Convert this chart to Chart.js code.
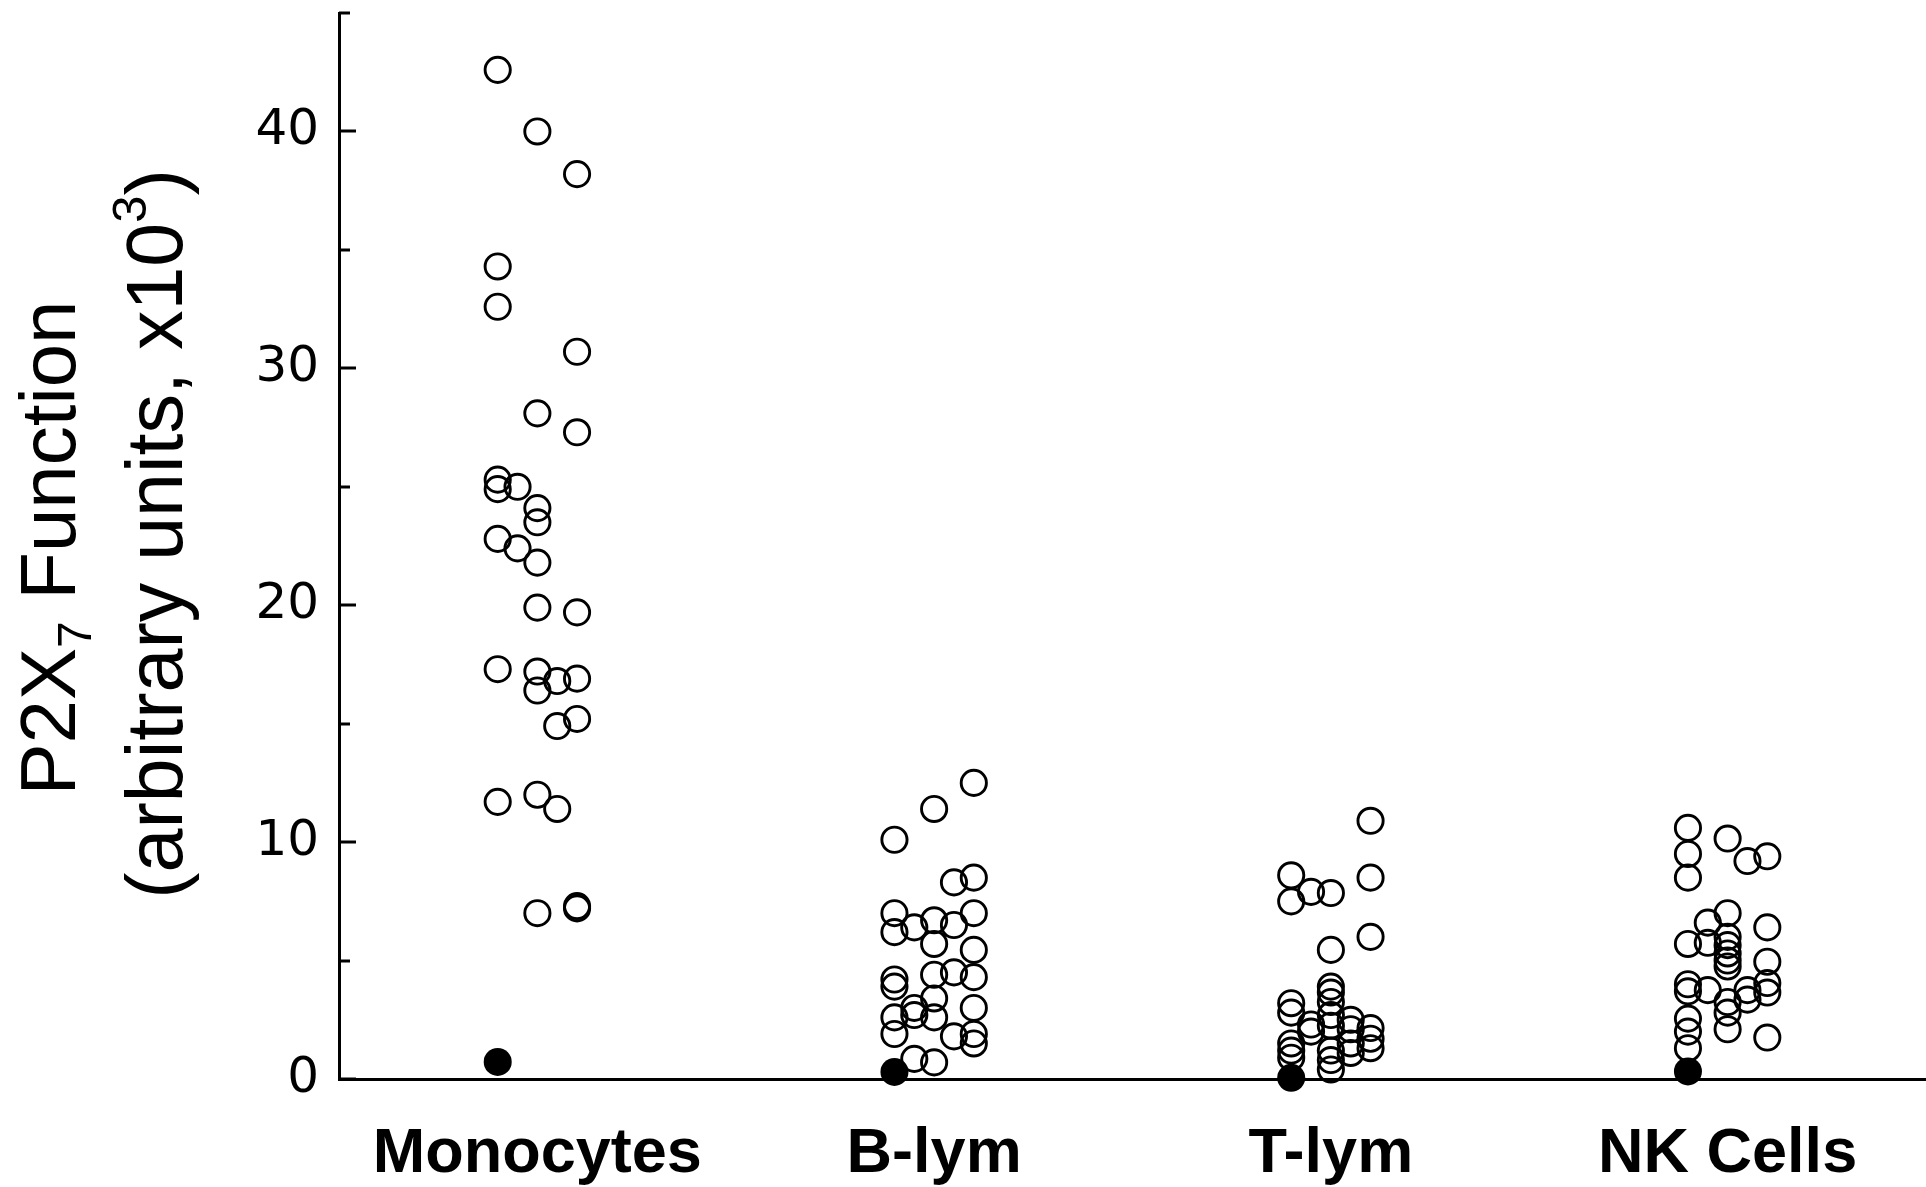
<!DOCTYPE html>
<html>
<head>
<meta charset="utf-8">
<script src="https://cdn.jsdelivr.net/npm/chart.js@4.4.1/dist/chart.umd.min.js"></script>
<style>
  html, body { margin: 0; padding: 0; background: #fff; }
  #wrap { width: 1926px; height: 1187px; }
</style>
</head>
<body>
<div id="wrap"><canvas id="p2x7Chart"></canvas></div>
<script>
const categories = ['Monocytes', 'B-lym', 'T-lym', 'NK Cells'];

// [jitter column (-2..2), value]
const monocytes = [
  [-2, 42.6], [-2, 34.3], [-2, 32.6], [-2, 25.3], [-2, 24.9], [-2, 22.8], [-2, 17.3], [-2, 11.7],
  [-1, 25.0], [-1, 22.4],
  [0, 40.0], [0, 28.1], [0, 24.1], [0, 23.5], [0, 21.8], [0, 19.9], [0, 17.2], [0, 16.4], [0, 12.0], [0, 7.0],
  [1, 16.8], [1, 14.9], [1, 11.4],
  [2, 38.2], [2, 30.7], [2, 27.3], [2, 19.7], [2, 16.9], [2, 15.2], [2, 7.3], [2, 7.2]
];
const bLym = [
  [-2, 10.1], [-2, 7.0], [-2, 6.2], [-2, 4.2], [-2, 3.9], [-2, 2.6], [-2, 1.9],
  [-1, 6.4], [-1, 3.0], [-1, 2.7], [-1, 0.85],
  [0, 11.4], [0, 6.7], [0, 5.7], [0, 4.4], [0, 3.4], [0, 2.6], [0, 0.7],
  [1, 8.3], [1, 6.5], [1, 4.5], [1, 1.8],
  [2, 12.5], [2, 8.5], [2, 7.0], [2, 5.45], [2, 4.3], [2, 3.0], [2, 1.9], [2, 1.5]
];
const tLym = [
  [-2, 8.6], [-2, 7.5], [-2, 3.2], [-2, 2.8], [-2, 1.5], [-2, 1.2], [-2, 0.9],
  [-1, 7.9], [-1, 2.3], [-1, 2.0],
  [0, 7.85], [0, 5.45], [0, 3.9], [0, 3.65], [0, 3.25], [0, 2.7], [0, 2.25], [0, 1.2], [0, 0.8], [0, 0.4],
  [1, 2.5], [1, 2.1], [1, 1.5], [1, 1.1],
  [2, 10.9], [2, 8.5], [2, 6.0], [2, 2.15], [2, 1.7], [2, 1.3]
];
const nkCells = [
  [-2, 10.6], [-2, 9.5], [-2, 8.5], [-2, 5.7], [-2, 4.0], [-2, 3.7], [-2, 2.55], [-2, 2.0], [-2, 1.3],
  [-1, 6.6], [-1, 5.75], [-1, 3.75],
  [0, 10.15], [0, 7.0], [0, 6.0], [0, 5.65], [0, 5.3], [0, 5.0], [0, 4.75], [0, 3.25], [0, 2.8], [0, 2.1],
  [1, 9.2], [1, 3.75], [1, 3.35],
  [2, 9.4], [2, 6.4], [2, 4.95], [2, 4.05], [2, 3.65], [2, 1.75]
];
// filled symbols, one per group, in column -2
const controls = [0.72, 0.3, 0.05, 0.32];

const yLabelValues = [0, 10, 20, 30, 40];

const groups = [monocytes, bLym, tLym, nkCells];
const slot = 0.05;
const openPoints = groups.flatMap((g, i) => g.map(([c, v]) => ({ x: i + c * slot, y: v })));
const filledPoints = controls.map((v, i) => ({ x: i - 2 * slot, y: v }));

// small inward ticks on the y axis
const innerTicks = {
  id: 'innerTicks',
  afterDraw(chart) {
    const y = chart.scales.y, ctx = chart.ctx, left = chart.chartArea.left;
    ctx.save();
    ctx.strokeStyle = '#000';
    ctx.lineWidth = 3;
    y.ticks.forEach(t => {
      const py = Math.round(y.getPixelForValue(t.value));
      const len = yLabelValues.includes(t.value) ? 17 : 11;
      ctx.beginPath();
      ctx.moveTo(left, py);
      ctx.lineTo(left + len, py);
      ctx.stroke();
    });
    ctx.restore();
  }
};

function drawRich(ctx, parts, bx, cy, size) {
  ctx.save();
  ctx.translate(bx, cy);
  ctx.rotate(-Math.PI / 2);
  ctx.fillStyle = '#000';
  ctx.textBaseline = 'alphabetic';
  ctx.textAlign = 'left';
  const fontFor = p => (p[1] ? Math.round(size * 0.62) : size) + 'px "Liberation Sans", Arial, sans-serif';
  let total = 0;
  parts.forEach(p => { ctx.font = fontFor(p); total += ctx.measureText(p[0]).width; });
  let x = -total / 2;
  parts.forEach(p => {
    ctx.font = fontFor(p);
    const dy = p[1] === 1 ? size * 0.2 : p[1] === -1 ? -size * 0.45 : 0;
    ctx.fillText(p[0], x, dy);
    x += ctx.measureText(p[0]).width;
  });
  ctx.restore();
}

// y title with sub/superscript
const yTitle = {
  id: 'yTitle',
  afterDraw(chart) {
    const ctx = chart.ctx;
    drawRich(ctx, [['P2X', 0], ['7', 1], [' Function', 0]], 75, 548, 78);
    drawRich(ctx, [['(arbitrary units, x10', 0], ['3', -1], [')', 0]], 182, 534, 79);
  }
};

const ctx = document.getElementById('p2x7Chart').getContext('2d');
new Chart(ctx, {
  type: 'scatter',
  data: {
    datasets: [{
      data: openPoints,
      pointStyle: 'circle',
      pointRadius: 12.6,
      pointBorderWidth: 2.9,
      borderColor: '#000',
      backgroundColor: 'rgba(0,0,0,0)',
      clip: false
    }, {
      data: filledPoints,
      pointStyle: 'circle',
      pointRadius: 14,
      pointBorderWidth: 0,
      borderColor: '#000',
      backgroundColor: '#000',
      clip: false
    }]
  },
  options: {
    responsive: true,
    maintainAspectRatio: false,
    animation: false,
    events: [],
    layout: { autoPadding: false, padding: { top: 13, right: 0, left: 0, bottom: 0 } },
    plugins: { legend: { display: false }, tooltip: { enabled: false } },
    scales: {
      x: {
        type: 'linear',
        min: -0.5,
        max: 3.5,
        afterBuildTicks: s => { s.ticks = categories.map((c, i) => ({ value: i })); },
        afterFit: s => { s.height = 108; s.paddingLeft = 0; s.paddingRight = 0; },
        grid: { display: false },
        border: { color: '#000', width: 3 },
        ticks: {
          autoSkip: false,
          maxRotation: 0,
          padding: 30,
          color: '#000',
          font: { family: '"Liberation Sans", Arial, sans-serif', size: 63, weight: 'bold' },
          callback: v => categories[v]
        }
      },
      y: {
        min: 0,
        max: 45,
        afterFit: s => { s.width = 339; s.paddingTop = 0; s.paddingBottom = 0; },
        grid: { display: false },
        border: { color: '#000', width: 3 },
        ticks: {
          stepSize: 5,
          padding: 12,
          color: '#000',
          font: { family: '"DejaVu Sans", sans-serif', size: 50 },
          callback: v => yLabelValues.includes(v) ? String(v) : ''
        }
      }
    }
  },
  plugins: [innerTicks, yTitle]
});
</script>
</body>
</html>
